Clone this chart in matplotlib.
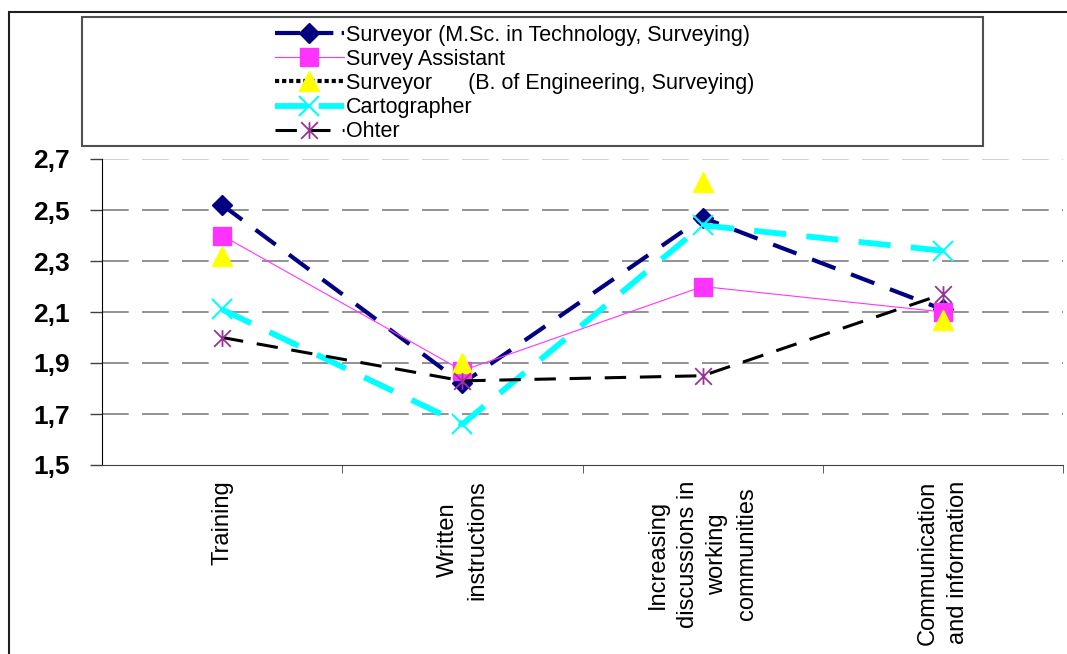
import matplotlib.pyplot as plt
from matplotlib.lines import Line2D
from matplotlib.path import Path
from matplotlib.patches import Rectangle

plt.rcParams['font.family'] = ['Liberation Sans', 'DejaVu Sans']

# Mean scores per development measure and occupational group
categories = ['Training', 'Written\ninstructions',
              'Increasing\ndiscussions in\nworking\ncommunities',
              'Communication\nand information']
msc = [2.52, 1.82, 2.47, 2.11]
assistant = [2.40, 1.87, 2.20, 2.10]
beng = [2.32, 1.90, 2.61, 2.07]
carto = [2.11, 1.66, 2.44, 2.34]
other = [2.00, 1.83, 1.85, 2.17]
yticks = [1.5, 1.7, 1.9, 2.1, 2.3, 2.5, 2.7]

labels = ['Surveyor (M.Sc. in Technology, Surveying)',
          'Survey Assistant',
          'Surveyor      (B. of Engineering, Surveying)',
          'Cartographer',
          'Ohter']

# Excel-style star marker: an x crossed by a vertical stroke
star = Path([(-1, -1), (1, 1), (-1, 1), (1, -1), (0, -1), (0, 1)],
            [Path.MOVETO, Path.LINETO, Path.MOVETO, Path.LINETO,
             Path.MOVETO, Path.LINETO])

fig = plt.figure(figsize=(10.67, 6.54), dpi=100)
ax = fig.add_axes([102 / 1067, 1 - 465 / 654, 961 / 1067, 306 / 654])

x = list(range(len(categories)))

# dashed horizontal grid, lightest at the top
for v in yticks[1:]:
    col = '#c8c8c8' if v == yticks[-1] else '#808080'
    ax.axhline(v, color=col, lw=1.2, dashes=(16, 8), zorder=0)

ax.plot(x, msc, color='#000080', lw=3, dashes=(6, 4), marker='D',
        ms=10, mfc='#000080', mec='#000080')
ax.plot(x, assistant, color='#ff33ff', lw=0.8, marker='s',
        ms=13, mfc='#ff33ff', mec='#ff33ff')
ax.plot(x, beng, ls='none', marker='^', ms=15,
        mfc='#ffff00', mec='#ffff00')
ax.plot(x, carto, color='#00ffff', lw=4.2, dashes=(5.5, 3.5), marker='x',
        ms=14, mew=1.5, mec='#00ffff')
ax.plot(x, other, color='black', lw=2.2, dashes=(7, 4.5), marker=star,
        ms=12, mew=1.3, mec='#993399')

ax.set_xlim(-0.5, len(categories) - 0.5)
ax.set_ylim(yticks[0], yticks[-1])
ax.set_yticks(yticks)
ax.set_yticklabels([f'{v:.1f}'.replace('.', ',') for v in yticks],
                   fontsize=19, fontweight='bold')
ax.tick_params(axis='y', direction='out', length=9, width=1,
               color='#404040', pad=14)

ax.set_xticks(x)
ax.set_xticklabels(categories, rotation=90, fontsize=17, va='top',
                   ha='center', linespacing=1.45)
ax.set_xticks([i + 0.5 for i in x], minor=True)
ax.tick_params(axis='x', which='major', length=0, pad=11)
ax.tick_params(axis='x', which='minor', direction='out', length=6,
               color='#404040')

for s in ['top', 'right']:
    ax.spines[s].set_visible(False)
ax.spines['left'].set_color('black')
ax.spines['bottom'].set_color('#404040')

# outer chart frame and legend frame
fig.patches.append(Rectangle((9 / 1067, -0.05), 1.2, 1 - 12 / 654 + 0.05,
                             transform=fig.transFigure, fill=False,
                             lw=1.5, ec='#202020'))
fig.patches.append(Rectangle((82 / 1067, 1 - 146 / 654), 901 / 1067,
                             129 / 654, transform=fig.transFigure,
                             fill=False, lw=1.5, ec='#505050'))

handles = [
    Line2D([], [], color='#000080', lw=3, dashes=(6, 2), marker='D',
           ms=10, mfc='#000080', mec='#000080'),
    Line2D([], [], color='#ff33ff', lw=0.8, marker='s', ms=13,
           mfc='#ff33ff', mec='#ff33ff'),
    Line2D([], [], color='black', lw=3, dashes=(1, 0.7), marker='^',
           ms=15, mfc='#ffff00', mec='#ffff00'),
    Line2D([], [], color='#00ffff', lw=4.2, dashes=(5.5, 2), marker='x',
           ms=14, mew=1.5, mec='#00ffff'),
    Line2D([], [], color='black', lw=2.2, dashes=(7, 4), marker=star,
           ms=12, mew=1.3, mec='#993399'),
]
fig.legend(handles, labels, loc='upper left',
           bbox_to_anchor=(275 / 1067, 1 - 25 / 654), frameon=False,
           fontsize=15.5, handlelength=3.2, handletextpad=0.1,
           labelspacing=0.14, borderpad=0, borderaxespad=0)

fig.savefig('out.png', dpi=100)
